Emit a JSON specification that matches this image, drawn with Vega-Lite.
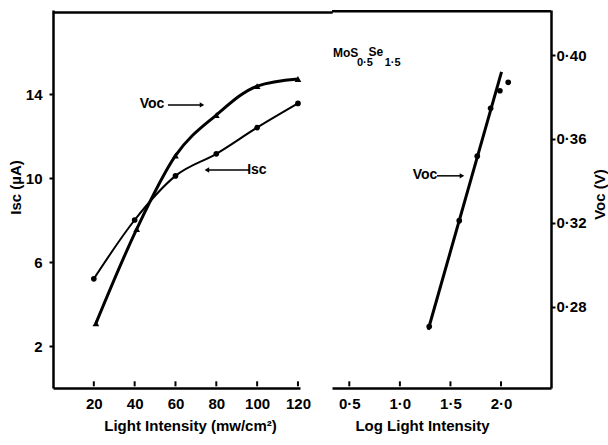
{
  "$schema": "https://vega.github.io/schema/vega-lite/v6.json",
  "width": 498,
  "height": 378,
  "autosize": {"type": "none"},
  "padding": {"left": 53, "top": 10, "right": 57, "bottom": 57},
  "background": "white",
  "config": {
    "view": {"stroke": null},
    "font": "Liberation Sans Narrow, Liberation Sans, sans-serif",
    "axis": {
      "grid": false,
      "domainColor": "black",
      "domainWidth": 2.5,
      "tickColor": "black",
      "tickWidth": 2,
      "labelColor": "black",
      "labelFont": "Liberation Sans Narrow, Liberation Sans, sans-serif",
      "labelFontSize": 15,
      "labelFontWeight": "bold",
      "titleColor": "black",
      "titleFont": "Liberation Sans Narrow, Liberation Sans, sans-serif",
      "titleFontSize": 15,
      "titleFontWeight": "bold"
    },
    "text": {"font": "Liberation Sans Narrow, Liberation Sans, sans-serif", "fontWeight": "bold", "color": "black"}
  },
  "datasets": {
    "isc": [
      {"intensity": 20, "isc": 5.2},
      {"intensity": 40, "isc": 8.0},
      {"intensity": 60, "isc": 10.1},
      {"intensity": 80, "isc": 11.15},
      {"intensity": 100, "isc": 12.4},
      {"intensity": 120, "isc": 13.55}
    ],
    "voc": [
      {"intensity": 21, "voc": 0.272},
      {"intensity": 41, "voc": 0.317},
      {"intensity": 60, "voc": 0.352},
      {"intensity": 80, "voc": 0.3714},
      {"intensity": 100, "voc": 0.3852},
      {"intensity": 120, "voc": 0.3886}
    ],
    "logvoc": [
      {"logI": 1.29, "voc": 0.2705},
      {"logI": 1.587, "voc": 0.321},
      {"logI": 1.765, "voc": 0.3518},
      {"logI": 1.897, "voc": 0.3746},
      {"logI": 1.989, "voc": 0.383},
      {"logI": 2.071, "voc": 0.387}
    ],
    "fit": [
      {"logI": 1.28, "voc": 0.269},
      {"logI": 2.005, "voc": 0.392}
    ],
    "leftNotes": [
      {"label": "Voc", "intensity": 48.5, "isc": 13.52, "align": "center"},
      {"label": "Isc", "intensity": 99.9, "isc": 10.38, "align": "left"}
    ],
    "leftArrows": [
      {"from": 56.3, "to": 73.0, "isc": 13.48, "dir": "right"},
      {"from": 96.5, "to": 75.4, "isc": 10.38, "dir": "left"}
    ],
    "rightNote": [{"label": "Voc", "logI": 1.248, "voc": 0.3428}],
    "rightArrow": [{"from": 1.367, "to": 1.614, "voc": 0.3424}],
    "formulaMain": [
      {"part": "MoS", "logI": 0.339, "voc": 0.4012},
      {"part": "Se", "logI": 0.69, "voc": 0.4017}
    ],
    "formulaSub": [
      {"part": "0·5", "logI": 0.576, "voc": 0.3964},
      {"part": "1·5", "logI": 0.85, "voc": 0.3964}
    ]
  },
  "layer": [
    {
      "layer": [
        {
          "layer": [
            {
              "data": {"name": "isc"},
              "mark": {"type": "line", "interpolate": "monotone", "color": "black", "strokeWidth": 2},
              "encoding": {
                "x": {
                  "field": "intensity", "type": "quantitative",
                  "scale": {"domain": [0, 121], "range": [0, 247], "nice": false, "zero": false},
                  "axis": {
                    "orient": "bottom", "values": [20, 40, 60, 80, 100, 120],
                    "ticks": false, "labelPadding": 8, "title": "Light Intensity (mw/cm²)",
                    "titleX": 137, "titlePadding": 7
                  }
                },
                "y": {
                  "field": "isc", "type": "quantitative",
                  "scale": {"domain": [0, 18], "nice": false, "zero": false},
                  "axis": {
                    "orient": "left", "values": [2, 6, 10, 14],
                    "tickSize": 4, "labelPadding": 7, "title": "Isc  (µA)",
                    "titlePadding": 2, "titleY": 177
                  }
                }
              }
            },
            {
              "data": {"name": "isc"},
              "mark": {"type": "point", "shape": "circle", "filled": true, "color": "black", "size": 32, "opacity": 1},
              "encoding": {
                "x": {"field": "intensity", "type": "quantitative"},
                "y": {"field": "isc", "type": "quantitative"}
              }
            },
            {
              "data": {"values": [{"start": 0, "end": 137, "level": 17.88}]},
              "mark": {"type": "rule", "color": "black", "strokeWidth": 2.5},
              "encoding": {
                "x": {"field": "start", "type": "quantitative"},
                "x2": {"field": "end"},
                "y": {"field": "level", "type": "quantitative"}
              }
            },
            {
              "data": {"values": [
                {"tick": 20, "level": 0.2}, {"tick": 40, "level": 0.2}, {"tick": 60, "level": 0.2},
                {"tick": 80, "level": 0.2}, {"tick": 100, "level": 0.2}, {"tick": 120, "level": 0.2}
              ]},
              "mark": {"type": "point", "shape": "M0,-1L0,1", "filled": false, "color": "black", "strokeWidth": 2, "size": 25, "opacity": 1},
              "encoding": {
                "x": {"field": "tick", "type": "quantitative"},
                "y": {"field": "level", "type": "quantitative"}
              }
            },
            {
              "data": {"name": "leftNotes"},
              "mark": {"type": "text", "fontSize": 14, "baseline": "middle"},
              "encoding": {
                "x": {"field": "intensity", "type": "quantitative"},
                "y": {"field": "isc", "type": "quantitative"},
                "text": {"field": "label"},
                "align": {"field": "align"}
              }
            },
            {
              "data": {"name": "leftArrows"},
              "mark": {"type": "rule", "color": "black", "strokeWidth": 1.5},
              "encoding": {
                "x": {"field": "from", "type": "quantitative"},
                "x2": {"field": "to"},
                "y": {"field": "isc", "type": "quantitative"}
              }
            },
            {
              "data": {"name": "leftArrows"},
              "transform": [{"filter": "datum.dir === 'right'"}],
              "mark": {"type": "point", "shape": "triangle-right", "filled": true, "color": "black", "size": 28, "opacity": 1},
              "encoding": {
                "x": {"field": "to", "type": "quantitative"},
                "y": {"field": "isc", "type": "quantitative"}
              }
            },
            {
              "data": {"name": "leftArrows"},
              "transform": [{"filter": "datum.dir === 'left'"}],
              "mark": {"type": "point", "shape": "triangle-left", "filled": true, "color": "black", "size": 28, "opacity": 1},
              "encoding": {
                "x": {"field": "to", "type": "quantitative"},
                "y": {"field": "isc", "type": "quantitative"}
              }
            }
          ]
        },
        {
          "data": {"name": "voc"},
          "layer": [
            {
              "mark": {"type": "line", "interpolate": "monotone", "color": "black", "strokeWidth": 3},
              "encoding": {
                "x": {"field": "intensity", "type": "quantitative"},
                "y": {
                  "field": "voc", "type": "quantitative",
                  "scale": {"domain": [0.2412, 0.4215], "nice": false, "zero": false},
                  "axis": null
                }
              }
            },
            {
              "mark": {"type": "point", "shape": "triangle-up", "filled": true, "color": "black", "size": 45, "opacity": 1},
              "encoding": {
                "x": {"field": "intensity", "type": "quantitative"},
                "y": {"field": "voc", "type": "quantitative", "axis": null}
              }
            }
          ]
        }
      ],
      "resolve": {"scale": {"y": "independent"}}
    },
    {
      "layer": [
        {
          "data": {"name": "fit"},
          "mark": {"type": "line", "color": "black", "strokeWidth": 3},
          "encoding": {
            "x": {
              "field": "logI", "type": "quantitative",
              "scale": {"domain": [0.329, 2.494], "range": [279, 498], "nice": false, "zero": false},
              "axis": {
                "orient": "bottom", "values": [0.5, 1, 1.5, 2],
                "labelExpr": "replace(format(datum.value, '.1f'), '.', '·')",
                "ticks": false, "labelPadding": 8, "title": "Log Light  Intensity",
                "titleX": 369, "titlePadding": 7
              }
            },
            "y": {
              "field": "voc", "type": "quantitative",
              "scale": {"domain": [0.2412, 0.4215], "nice": false, "zero": false},
              "axis": {
                "orient": "right", "values": [0.28, 0.32, 0.36, 0.4],
                "labelExpr": "replace(format(datum.value, '.2f'), '.', '·')",
                "tickSize": 4, "labelPadding": 1, "title": "Voc  (V)",
                "titleAngle": 270, "titlePadding": 21, "titleY": 184
              }
            }
          }
        },
        {
          "data": {"name": "logvoc"},
          "mark": {"type": "point", "shape": "circle", "filled": true, "color": "black", "size": 32, "opacity": 1},
          "encoding": {
            "x": {"field": "logI", "type": "quantitative"},
            "y": {"field": "voc", "type": "quantitative"}
          }
        },
        {
          "data": {"values": [{"start": 0.329, "end": 2.494, "level": 0.4209}]},
          "mark": {"type": "rule", "color": "black", "strokeWidth": 2.5},
          "encoding": {
            "x": {"field": "start", "type": "quantitative"},
            "x2": {"field": "end"},
            "y": {"field": "level", "type": "quantitative"}
          }
        },
        {
          "data": {"values": [
            {"tick": 0.5, "level": 0.2432}, {"tick": 1.0, "level": 0.2432},
            {"tick": 1.5, "level": 0.2432}, {"tick": 2.0, "level": 0.2432}
          ]},
          "mark": {"type": "point", "shape": "M0,-1L0,1", "filled": false, "color": "black", "strokeWidth": 2, "size": 25, "opacity": 1},
          "encoding": {
            "x": {"field": "tick", "type": "quantitative"},
            "y": {"field": "level", "type": "quantitative"}
          }
        },
        {
          "data": {"name": "rightNote"},
          "mark": {"type": "text", "fontSize": 14, "baseline": "middle", "align": "center"},
          "encoding": {
            "x": {"field": "logI", "type": "quantitative"},
            "y": {"field": "voc", "type": "quantitative"},
            "text": {"field": "label"}
          }
        },
        {
          "data": {"name": "rightArrow"},
          "mark": {"type": "rule", "color": "black", "strokeWidth": 1.5},
          "encoding": {
            "x": {"field": "from", "type": "quantitative"},
            "x2": {"field": "to"},
            "y": {"field": "voc", "type": "quantitative"}
          }
        },
        {
          "data": {"name": "rightArrow"},
          "mark": {"type": "point", "shape": "triangle-right", "filled": true, "color": "black", "size": 28, "opacity": 1},
          "encoding": {
            "x": {"field": "to", "type": "quantitative"},
            "y": {"field": "voc", "type": "quantitative"}
          }
        },
        {
          "data": {"name": "formulaMain"},
          "mark": {"type": "text", "fontSize": 12, "baseline": "middle", "align": "left"},
          "encoding": {
            "x": {"field": "logI", "type": "quantitative"},
            "y": {"field": "voc", "type": "quantitative"},
            "text": {"field": "part"}
          }
        },
        {
          "data": {"name": "formulaSub"},
          "mark": {"type": "text", "fontSize": 11, "baseline": "middle", "align": "left"},
          "encoding": {
            "x": {"field": "logI", "type": "quantitative"},
            "y": {"field": "voc", "type": "quantitative"},
            "text": {"field": "part"}
          }
        }
      ]
    }
  ],
  "resolve": {"scale": {"x": "independent", "y": "independent"}}
}
